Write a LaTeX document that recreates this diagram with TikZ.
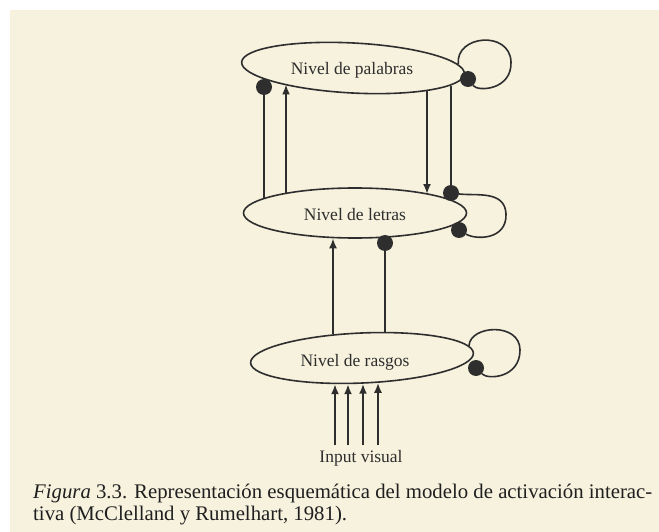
\documentclass[tikz,border=0pt]{standalone}
\usepackage{fontspec}
\usepackage{graphicx}
\setmainfont{Liberation Serif}
\usetikzlibrary{shapes.geometric,arrows.meta}
\definecolor{paper}{HTML}{F7F2DE}
\definecolor{ink}{HTML}{2E2E2E}
\begin{document}
\begin{tikzpicture}[x=1pt,y=-1pt,
  level/.style={ellipse,draw=ink,line width=1.6pt,inner sep=0pt,minimum width=223pt,minimum height=50pt},
  lbl/.style={font=\fontsize{17.5}{20}\selectfont,text=ink,inner sep=0pt,anchor=base},
  blob/.style={circle,fill=ink,inner sep=0pt,minimum size=16pt},
  link/.style={draw=ink,line width=2.3pt},
  arr/.style={link,-{Latex[length=10pt,width=8pt]}},
  loopline/.style={draw=ink,line width=1.6pt}]
\useasboundingbox (0,0) rectangle (659,532);
\fill[white] (0,0) rectangle (659,532);
\fill[paper] (10,10) rectangle (659,532);

% levels
\node[level,rotate=-3] (T) at (353,68) {};
\node[level] (M) at (355,213) {};
\node[level,rotate=2.5] (B) at (362,358) {};
\node[lbl] (Tl) at (352,75) {Nivel de palabras};
\node[lbl] (Ml) at (355,220) {Nivel de letras};
\node[lbl] (Bl) at (355,366) {Nivel de rasgos};
\node[lbl] (inp) at (361,462) {Input visual};

% inhibitory dots
\node[blob] (dT1) at (264,87) {};
\node[blob] (dT2) at (468,79) {};
\node[blob] (dM1) at (451,193) {};
\node[blob] (dM2) at (459,230) {};
\node[blob] (dM3) at (385,243) {};
\node[blob] (dB) at (476,368) {};

% x positions of vertical links
\coordinate (x2) at (286,0);
\coordinate (x3) at (427,0);
\coordinate (x4) at (451,0);
\coordinate (x5) at (333,0);
\coordinate (i1) at (335,445);
\coordinate (i2) at (348,445);
\coordinate (i3) at (363,445);
\coordinate (i4) at (378,445);

% between palabras and letras
\draw[link] (dT1) -- (dT1 |- M.171.2);
\draw[arr] (x2 |- M.164) -- (x2 |- T.196.5);
\draw[arr] (x3 |- T.345.9) -- (x3 |- M.14.6);
\draw[link] (x4 |- T.352.9) -- (dM1);

% between letras and rasgos
\draw[arr] (x5 |- B.140.3) -- (x5 |- M.228.1);
\draw[link] (dM3) -- (dM3 |- B.46.8);

% input
\foreach \i/\a in {i1/221.9,i2/240.5,i3/272.3,i4/303}
  \draw[arr,line width=2.6pt] (\i) -- (\i |- B.\a);

% self loops
\draw[loopline] (T.5) .. controls (455,35) and (510,30) .. (511,62)
  .. controls (512,90) and (478,92) .. (dT2);
\draw[loopline] (dM1) .. controls (476,196) and (505,190) .. (506,214)
  .. controls (507,240) and (476,240) .. (dM2);
\draw[loopline] (B.4) .. controls (470,325) and (520,322) .. (520,350)
  .. controls (520,378) and (488,380) .. (dB);

% caption
\node[anchor=base west,inner sep=0pt,text=black!88] (cap) at (33,498)
  {\resizebox{619pt}{!}{\fontsize{10}{10.8}\selectfont
   \begin{tabular}[t]{@{}l@{}}\textit{Figura} 3.3. Representación esquemática del modelo de activación interac-\\
   tiva (McClelland y Rumelhart, 1981).\end{tabular}}};
\end{tikzpicture}
\end{document}
